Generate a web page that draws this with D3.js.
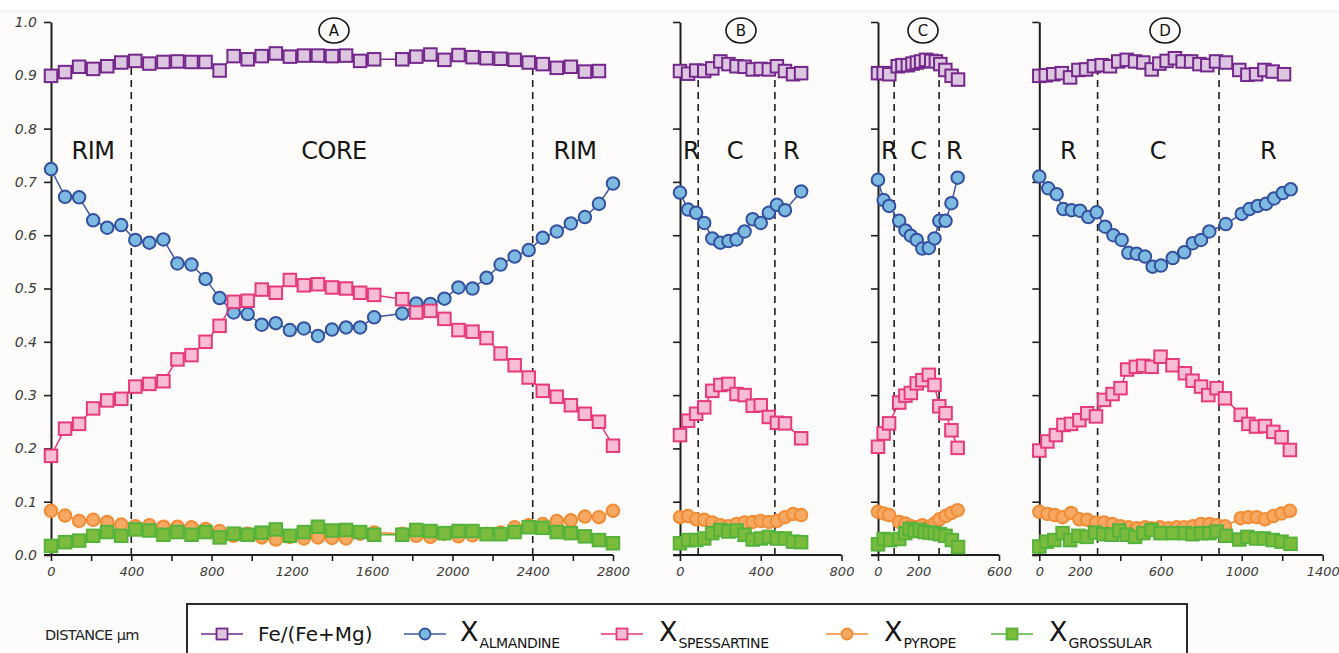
<!DOCTYPE html>
<html>
<head>
<meta charset="utf-8">
<script src="https://cdn.jsdelivr.net/npm/d3@7"></script>
<style>
  html, body { margin: 0; padding: 0; background: #ffffff; }
  svg { display: block; }
</style>
</head>
<body>
<svg id="chart" width="1339" height="653"></svg>
<script>
// ---------------- data ----------------
// shared y ticks (mole fraction / ratio)
const yTickValues = [0, 0.1, 0.2, 0.3, 0.4, 0.5, 0.6, 0.7, 0.8, 0.9, 1.0];

// Profile A (2800 µm traverse, 70 µm step; point at 1680 µm not analysed)
const aDist = [0,70,140,210,280,350,420,490,560,630,700,770,840,910,980,1050,1120,1190,1260,1330,1400,1470,1540,1610,1680,1750,1820,1890,1960,2030,2100,2170,2240,2310,2380,2450,2520,2590,2660,2730,2800];
const aFe  = [0.899,0.906,0.916,0.912,0.917,0.924,0.927,0.922,0.925,0.926,0.925,0.925,0.909,0.936,0.930,0.936,0.941,0.935,0.937,0.937,0.936,0.937,0.927,0.930,null,0.930,0.935,0.939,0.929,0.938,0.934,0.932,0.931,0.929,0.924,0.921,0.914,0.916,0.907,0.908,null];
const aAlm = [0.724,0.672,0.671,0.628,0.614,0.619,0.591,0.586,0.592,0.547,0.545,0.518,0.482,0.455,0.452,0.432,0.435,0.422,0.425,0.411,0.423,0.427,0.427,0.446,null,0.453,0.472,0.471,0.481,0.502,0.500,0.520,0.545,0.560,0.572,0.595,0.607,0.622,0.634,0.659,0.697];
const aSps = [0.186,0.237,0.246,0.275,0.290,0.293,0.316,0.321,0.326,0.367,0.375,0.400,0.430,0.475,0.477,0.498,0.492,0.516,0.506,0.508,0.502,0.500,0.492,0.488,null,0.480,0.455,0.458,0.443,0.422,0.419,0.407,0.378,0.356,0.333,0.308,0.297,0.281,0.265,0.250,0.205];
const aPrp = [0.083,0.074,0.064,0.066,0.062,0.057,0.054,0.056,0.053,0.053,0.052,0.049,0.045,0.036,0.040,0.033,0.029,0.034,0.031,0.033,0.032,0.031,0.040,0.042,null,0.040,0.036,0.034,0.040,0.035,0.037,0.040,0.042,0.052,0.056,0.058,0.064,0.065,0.072,0.071,0.083];
const aGrs = [0.017,0.024,0.027,0.036,0.043,0.036,0.048,0.046,0.038,0.043,0.038,0.043,0.033,0.040,0.038,0.042,0.048,0.036,0.043,0.053,0.046,0.047,0.043,0.038,null,0.038,0.047,0.045,0.041,0.045,0.045,0.039,0.039,0.043,0.052,0.051,0.043,0.041,0.035,0.028,0.022];

// Profile B
const bDist = [0,40,80,120,160,200,240,280,320,360,400,440,480,520,560,600];
const bFe  = [0.908,0.903,0.909,0.908,0.913,0.926,0.921,0.917,0.916,0.911,0.912,0.911,0.917,0.908,0.902,0.904];
const bAlm = [0.680,0.648,0.642,0.623,0.594,0.586,0.589,0.592,0.607,0.630,0.623,0.642,0.657,0.647,null,0.682];
const bSps = [0.225,0.252,0.265,0.277,0.308,0.319,0.321,0.302,0.300,0.280,0.281,0.259,0.248,0.247,null,0.219];
const bPrp = [0.071,0.073,0.067,0.066,0.061,0.056,0.054,0.058,0.061,0.062,0.064,0.062,0.064,0.071,0.077,0.075];
const bGrs = [0.022,0.028,0.028,0.031,0.041,0.047,0.044,0.046,0.038,0.029,0.031,0.034,0.031,0.031,0.025,0.024];

// Profile C
const cDistFe = [0,28,56,98,121,148,171,193,214,238,264,287,309,334,365,397];
const cFe  = [0.904,0.904,0.902,0.917,0.919,0.919,0.922,0.924,0.926,0.929,0.927,0.926,0.921,0.910,0.899,0.892];
const cDist = [0,28,55,105,136,163,192,220,252,280,304,335,364,395];
const cAlm = [0.704,0.666,0.655,0.627,0.609,0.599,0.591,0.575,0.576,0.594,0.627,0.627,0.660,0.708];
const cSps = [0.203,0.228,0.247,0.286,0.299,0.304,0.322,0.328,0.338,0.319,0.279,0.266,0.234,0.201];
const cPrp = [0.081,0.078,0.075,0.062,0.059,0.054,0.052,0.056,0.053,0.059,0.067,0.073,0.079,0.084];
const cDistGrs = [0,28,60,105,135,157,182,206,231,256,281,307,335,366,397];
const cGrs = [0.020,0.030,0.028,0.030,0.041,0.049,0.045,0.047,0.043,0.042,0.041,0.039,0.036,0.028,0.015];

// Profile D
const dDistFe = [0,32,69,111,152,193,231,270,308,349,390,432,473,514,555,593,629,670,708,750,791,830,873,922,988,1028,1071,1112,1153,1209];
const dFe  = [0.899,0.900,0.902,0.904,0.896,0.910,0.911,0.917,0.919,0.917,0.926,0.929,0.926,0.924,0.911,0.922,0.927,0.932,0.926,0.926,0.921,0.919,0.926,0.924,0.910,0.901,0.902,0.910,0.907,0.902];
const dDistAlm = [0,44,86,119,160,201,242,283,325,366,407,440,481,522,560,601,659,716,758,799,840,921,1000,1038,1079,1120,1160,1202,1242];
const dAlm = [0.710,0.688,0.677,0.649,0.647,0.646,0.634,0.643,0.616,0.600,0.591,0.567,0.565,0.560,0.541,0.543,0.557,0.568,0.585,0.591,0.607,0.621,0.640,0.649,0.655,0.659,0.669,0.679,0.686];
const dDistSps = [0,40,82,119,157,198,237,280,320,362,401,434,477,513,555,599,658,719,757,799,835,876,917,995,1033,1071,1115,1156,1197,1238];
const dSps = [0.196,0.213,0.225,0.244,0.246,0.253,0.266,0.260,0.291,0.302,0.313,0.348,0.353,0.355,0.353,0.372,0.356,0.341,0.327,0.316,0.300,0.313,0.294,0.263,0.246,0.241,0.242,0.231,0.221,0.197];
const dDistPrp = [0,40,77,115,157,198,237,280,320,362,401,440,481,522,555,596,638,679,715,758,799,840,876,917,995,1033,1074,1115,1156,1197,1238];
const dPrp = [0.081,0.077,0.075,0.071,0.079,0.067,0.066,0.061,0.061,0.058,0.054,0.052,0.050,0.052,0.050,0.052,0.050,0.052,0.052,0.054,0.058,0.058,0.056,0.054,0.069,0.071,0.071,0.067,0.073,0.078,0.083];
const dDistGrs = [0,36,74,115,152,193,234,275,316,358,395,431,473,514,555,599,658,719,757,799,840,876,922,988,1028,1071,1110,1153,1197,1241];
const dGrs = [0.016,0.025,0.028,0.041,0.028,0.036,0.034,0.042,0.039,0.038,0.046,0.038,0.034,0.041,0.047,0.041,0.041,0.041,0.039,0.041,0.041,0.044,0.036,0.029,0.034,0.031,0.031,0.028,0.025,0.021];

// x-axis ticks and labels per profile
const aTicks = [0,200,400,600,800,1000,1200,1400,1600,1800,2000,2200,2400,2600,2800];
const aLabels = [0,400,800,1200,1600,2000,2400,2800];
const bTicks = [0,400,800];
const bLabels = [0,400,800];
const cTicks = [0,200,600];
const cLabels = [0,200,600];
const dTicks = [0,200,400,600,800,1000,1200,1400];
const dLabels = [0,200,600,1000,1400];

// rim/core boundaries
const aBounds = [400, 2400];
const bBounds = [90, 470];
const cBounds = [80, 303];
const dBounds = [288, 888];

// ---------------- styles ----------------
const styles = {
  fe:  { shape: 'square', fill: '#dcc6e0', stroke: '#74288b', line: '#74288b' },
  alm: { shape: 'circle', fill: '#7dbae1', stroke: '#34509e', line: '#3f58a6' },
  sps: { shape: 'square', fill: '#f8bcd5', stroke: '#e63a7a', line: '#e63a7a' },
  prp: { shape: 'circle', fill: '#f7a862', stroke: '#f28c35', line: '#f28c35' },
  grs: { shape: 'square', fill: '#7cbb3c', stroke: '#55b23b', line: '#55b23b' }
};

const svg = d3.select('#chart');
const W = 1339, H = 653;

// background
svg.append('rect').attr('x', 0).attr('y', 0).attr('width', W).attr('height', H).attr('fill', '#ffffff');
svg.append('rect').attr('x', 0).attr('y', 11).attr('width', W).attr('height', H - 11).attr('fill', '#fdfcfa');
svg.append('line').attr('x1', 0).attr('x2', W).attr('y1', 11).attr('y2', 11)
  .attr('stroke', '#e6ebf2').attr('stroke-width', 1);

const y = d3.scaleLinear().domain([0, 1]).range([555, 22]);

const tickFont = { family: 'DejaVu Sans, sans-serif', size: 13, fill: '#3b3b3b' };
const handFont = 'DejaVu Sans, sans-serif';

const panels = [
  { id: 'A', domain: [0, 2800], range: [51, 613], ticks: aTicks, labels: aLabels, bounds: aBounds, showY: true,
    zones: [{ t: 'RIM', x: 93 }, { t: 'CORE', x: 334 }, { t: 'RIM', x: 575 }], tag: 334,
    series: [
      { k: 'fe', dist: aDist, vals: aFe }, { k: 'alm', dist: aDist, vals: aAlm }, { k: 'sps', dist: aDist, vals: aSps },
      { k: 'prp', dist: aDist, vals: aPrp }, { k: 'grs', dist: aDist, vals: aGrs }] },
  { id: 'B', domain: [0, 800], range: [680, 841.5], ticks: bTicks, labels: bLabels, bounds: bBounds, showY: false,
    zones: [{ t: 'R', x: 691 }, { t: 'C', x: 735 }, { t: 'R', x: 791 }], tag: 741,
    series: [
      { k: 'fe', dist: bDist, vals: bFe }, { k: 'alm', dist: bDist, vals: bAlm }, { k: 'sps', dist: bDist, vals: bSps },
      { k: 'prp', dist: bDist, vals: bPrp }, { k: 'grs', dist: bDist, vals: bGrs }] },
  { id: 'C', domain: [0, 600], range: [878, 999], ticks: cTicks, labels: cLabels, bounds: cBounds, showY: false,
    zones: [{ t: 'R', x: 889 }, { t: 'C', x: 918.5 }, { t: 'R', x: 954 }], tag: 923,
    series: [
      { k: 'fe', dist: cDistFe, vals: cFe }, { k: 'alm', dist: cDist, vals: cAlm }, { k: 'sps', dist: cDist, vals: cSps },
      { k: 'prp', dist: cDist, vals: cPrp }, { k: 'grs', dist: cDistGrs, vals: cGrs }] },
  { id: 'D', domain: [0, 1400], range: [1039.3, 1322.7], ticks: dTicks, labels: dLabels, bounds: dBounds, showY: false,
    zones: [{ t: 'R', x: 1068 }, { t: 'C', x: 1158 }, { t: 'R', x: 1268 }], tag: 1165,
    series: [
      { k: 'fe', dist: dDistFe, vals: dFe }, { k: 'alm', dist: dDistAlm, vals: dAlm }, { k: 'sps', dist: dDistSps, vals: dSps },
      { k: 'prp', dist: dDistPrp, vals: dPrp }, { k: 'grs', dist: dDistGrs, vals: dGrs }] }
];

function drawMarker(sel, shape, size) {
  if (shape === 'square') {
    return sel.append('rect').attr('x', -size / 2).attr('y', -size / 2).attr('width', size).attr('height', size);
  }
  return sel.append('circle').attr('r', size / 2);
}

panels.forEach(p => {
  const x = d3.scaleLinear().domain(p.domain).range(p.range);
  const g = svg.append('g').attr('class', 'panel-' + p.id);

  // rim / core boundaries
  p.bounds.forEach(b => {
    g.append('line')
      .attr('x1', x(b)).attr('x2', x(b))
      .attr('y1', 68).attr('y2', y(0))
      .attr('stroke', '#1e1e1e').attr('stroke-width', 1.6)
      .attr('stroke-dasharray', '7,5');
  });

  // y axis
  const yAxis = d3.axisLeft(y).tickValues(yTickValues).tickSize(7).tickSizeOuter(0).tickPadding(7)
    .tickFormat(p.showY ? d3.format('.1f') : () => '');
  const ya = g.append('g').attr('transform', `translate(${p.range[0]},0)`).call(yAxis);
  ya.select('.domain').attr('stroke', '#1e1e1e').attr('stroke-width', 2);
  ya.selectAll('.tick line').attr('stroke', '#1e1e1e').attr('stroke-width', 1.6);
  ya.selectAll('.tick text').attr('font-family', tickFont.family).attr('font-style', 'italic')
    .attr('font-size', 14).attr('fill', tickFont.fill);

  // x axis
  const xAxis = d3.axisBottom(x).tickValues(p.ticks).tickSize(6).tickSizeOuter(0).tickPadding(6)
    .tickFormat(d => p.labels.includes(d) ? String(d) : '');
  const xa = g.append('g').attr('transform', `translate(0,${y(0)})`).call(xAxis);
  xa.select('.domain').remove();
  xa.append('line').attr('x1', p.range[0] - 7).attr('x2', p.range[1]).attr('y1', 0).attr('y2', 0)
    .attr('stroke', '#1e1e1e').attr('stroke-width', 2);
  xa.selectAll('.tick line').attr('stroke', '#1e1e1e').attr('stroke-width', 1.6);
  xa.selectAll('.tick text').attr('font-family', tickFont.family).attr('font-style', 'italic')
    .attr('font-size', tickFont.size).attr('fill', tickFont.fill);

  // panel tag
  g.append('ellipse').attr('cx', p.tag).attr('cy', 30.5).attr('rx', 15).attr('ry', 12.5)
    .attr('fill', 'none').attr('stroke', '#151515').attr('stroke-width', 1.6);
  g.append('text').attr('x', p.tag).attr('y', 36).attr('text-anchor', 'middle')
    .attr('font-family', handFont).attr('font-size', 15).attr('fill', '#151515').text(p.id);

  // zone labels
  p.zones.forEach(z => {
    g.append('text').attr('x', z.x).attr('y', 159).attr('text-anchor', 'middle')
      .attr('font-family', handFont).attr('font-size', 24).attr('fill', '#151515')
      .attr('letter-spacing', -0.5).text(z.t);
  });

  // series
  p.series.forEach(s => {
    const st = styles[s.k];
    const pts = s.dist.map((d, i) => ({ d, v: s.vals[i] })).filter(q => q.v !== null);
    g.append('path').datum(pts)
      .attr('d', d3.line().x(q => x(q.d)).y(q => y(q.v)))
      .attr('fill', 'none').attr('stroke', st.line).attr('stroke-width', 1.5);
    const m = g.append('g').selectAll('g').data(pts).join('g')
      .attr('transform', q => `translate(${x(q.d)},${y(q.v)})`);
    drawMarker(m, st.shape, 12.5)
      .attr('fill', st.fill).attr('stroke', st.stroke).attr('stroke-width', 2);
  });
});

// ---------------- legend ----------------
svg.append('text').attr('x', 45).attr('y', 640).attr('font-family', handFont).attr('font-size', 14.5)
  .attr('fill', '#222').attr('letter-spacing', -0.6).text('DISTANCE µm');

svg.append('rect').attr('x', 187).attr('y', 604).attr('width', 1000).attr('height', 70)
  .attr('fill', '#ffffff').attr('stroke', '#2a2a2a').attr('stroke-width', 2);

const legendItems = [
  { k: 'fe',  cx: 222,  label: 'Fe/(Fe+Mg)', tx: 258 },
  { k: 'alm', cx: 425,  label: 'X', sub: 'ALMANDINE', tx: 460 },
  { k: 'sps', cx: 622,  label: 'X', sub: 'SPESSARTINE', tx: 659 },
  { k: 'prp', cx: 847,  label: 'X', sub: 'PYROPE', tx: 884 },
  { k: 'grs', cx: 1012, label: 'X', sub: 'GROSSULAR', tx: 1049 }
];
const lg = svg.append('g');
legendItems.forEach(it => {
  const st = styles[it.k];
  const cy = 634;
  lg.append('line').attr('x1', it.cx - 21).attr('x2', it.cx + 21).attr('y1', cy).attr('y2', cy)
    .attr('stroke', st.line).attr('stroke-width', 1.6);
  const mk = lg.append('g').attr('transform', `translate(${it.cx},${cy})`);
  drawMarker(mk, st.shape, 11).attr('fill', st.fill).attr('stroke', st.stroke).attr('stroke-width', 1.8);
  if (it.sub) {
    const t = lg.append('text').attr('x', it.tx).attr('y', 641).attr('font-family', handFont).attr('fill', '#151515');
    t.append('tspan').attr('font-size', 27).text(it.label);
    t.append('tspan').attr('font-size', 14).attr('dx', 1).attr('dy', 7).attr('letter-spacing', -0.4).text(it.sub);
  } else {
    lg.append('text').attr('x', it.tx).attr('y', 641).attr('font-family', handFont).attr('font-size', 20)
      .attr('fill', '#151515').text(it.label);
  }
});
</script>
</body>
</html>
